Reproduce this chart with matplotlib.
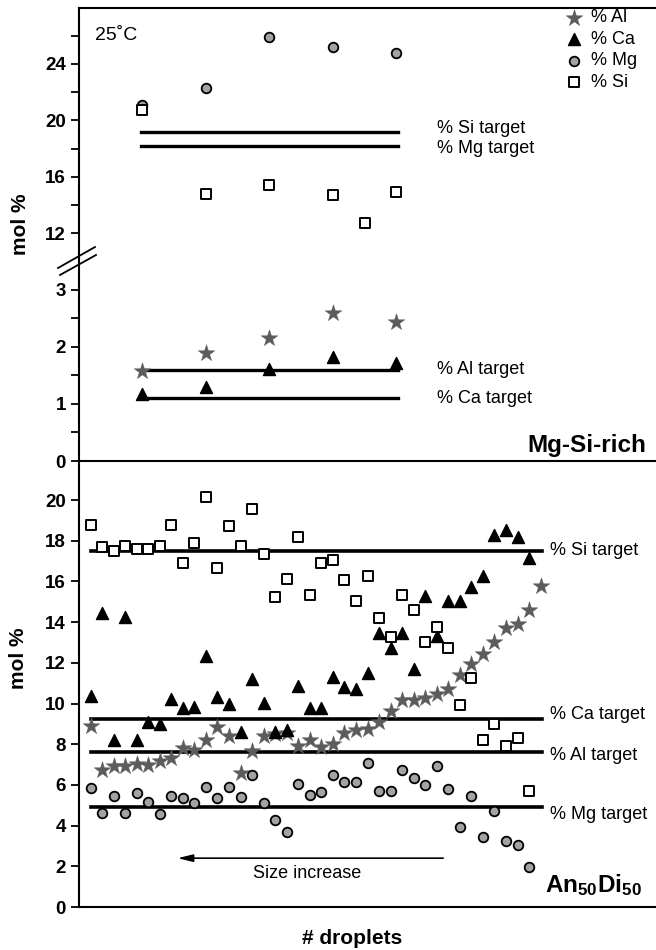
import matplotlib.pyplot as plt
from matplotlib.lines import Line2D

plt.rcParams['font.family'] = ['Liberation Sans', 'DejaVu Sans']
plt.rcParams['mathtext.fontset'] = 'custom'
plt.rcParams['mathtext.rm'] = 'Liberation Sans'
plt.rcParams['mathtext.bf'] = 'Liberation Sans:bold'

# panel superior (Mg-Si-rich)
top_x = [5.5, 11, 16.5, 22, 27.5]
top_si_x = [5.5, 11, 16.5, 22, 24.75, 27.5]
top_al = [1.57, 1.89, 2.16, 2.60, 2.44]
top_ca = [1.17, 1.30, 1.61, 1.82, 1.72]
top_mg = [21.1, 22.3, 25.9, 25.2, 24.8]
top_si = [20.7, 14.8, 15.4, 14.7, 12.7, 14.9]
top_targets_hi = {'% Si target': 19.2, '% Mg target': 18.15}
top_targets_lo = {'% Al target': 1.6, '% Ca target': 1.1}

# panel inferior (An50Di50)
drop_al = list(range(1, 41))
drop = list(range(1, 40))
al = [8.9, 6.75, 6.95, 6.95, 7.05, 7.0, 7.2, 7.3, 7.8, 7.7, 8.2, 8.85, 8.4, 6.6, 7.65,
      8.4, 8.5, 8.55, 7.9, 8.2, 7.85, 8.0, 8.55, 8.7, 8.75, 9.1, 9.65, 10.15, 10.15, 10.25,
      10.45, 10.7, 11.4, 11.95, 12.45, 13.0, 13.7, 13.9, 14.6, 15.8]
ca = [10.35, 14.43, 8.2, 14.27, 8.2, 9.1, 9.0, 10.2, 9.8, 9.85, 12.33, 10.33, 10.0, 8.6,
      11.19, 10.04, 8.6, 8.7, 10.86, 9.8, 9.8, 11.32, 10.83, 10.7, 11.51, 13.48, 12.71,
      13.48, 11.68, 15.28, 13.32, 15.05, 15.05, 15.74, 16.26, 18.28, 18.53, 18.2, 17.13]
si = [18.75, 17.7, 17.5, 17.75, 17.6, 17.6, 17.75, 18.77, 16.92, 17.87, 20.13, 16.67,
      18.72, 17.74, 19.54, 17.33, 15.25, 16.1, 18.17, 15.33, 16.89, 17.05, 16.07, 15.05,
      16.26, 14.19, 13.25, 15.33, 14.6, 13.0, 13.77, 12.71, 9.95, 11.24, 8.2, 8.98, 7.91,
      8.29, 5.72]
mg = [5.85, 4.6, 5.45, 4.6, 5.62, 5.16, 4.55, 5.45, 5.34, 5.13, 5.88, 5.34, 5.88, 5.42,
      6.5, 5.13, 4.28, 3.67, 6.04, 5.52, 5.66, 6.49, 6.16, 6.14, 7.06, 5.72, 5.72, 6.73,
      6.32, 6.0, 6.93, 5.78, 3.92, 5.45, 3.45, 4.73, 3.26, 3.05, 1.95]
bot_targets = {'% Si target': 17.5, '% Ca target': 9.25, '% Al target': 7.62, '% Mg target': 4.92}
bot_label_y = {'% Si target': 17.5, '% Ca target': 9.48, '% Al target': 7.47, '% Mg target': 4.57}

STAR = dict(marker='*', s=160, color='#5c5c5c', edgecolors='#5c5c5c', linewidths=0.3)
TRI = dict(marker='^', s=75, color='black')
CIRC = dict(marker='o', s=48, facecolors='#a3a3a3', edgecolors='black', linewidths=1.3)
SQ = dict(marker='s', s=48, facecolors='white', edgecolors='black', linewidths=1.4)

fig = plt.figure(figsize=(6.56, 9.5), dpi=100)
L = 79 / 656
W = 1 - L
ax1 = fig.add_axes([L, 1 - 258 / 950, W, 250 / 950])
ax2 = fig.add_axes([L, 1 - 461 / 950, W, 203 / 950])
ax3 = fig.add_axes([L, 1 - 907 / 950, W, 446 / 950])

for ax in (ax1, ax2, ax3):
    ax.set_xlim(0, 50)
    ax.set_xticks([])
    ax.spines['right'].set_visible(False)
    for sp in ax.spines.values():
        sp.set_linewidth(1.5)
    ax.tick_params(axis='y', which='both', direction='out', width=1.3, labelsize=13.5)
    ax.tick_params(axis='y', which='major', length=6)
    ax.tick_params(axis='y', which='minor', length=6)
    ax.patch.set_alpha(0)
ax1.spines['bottom'].set_visible(False)
ax2.spines['top'].set_visible(False)
ax3.spines['top'].set_visible(False)

# eje partido del panel superior
ax1.set_ylim(10.23, 27.97)
ax1.set_yticks([12, 16, 20, 24])
ax1.set_yticks([14, 18, 22, 26], minor=True)
ax2.set_ylim(0, 3.56)
ax2.set_yticks([0, 1, 2, 3])
ax2.set_yticks([0.5, 1.5, 2.5], minor=True)
ax3.set_ylim(0, 21.92)
ax3.set_yticks(range(0, 21, 2))
for ax in (ax1, ax2, ax3):
    for lbl in ax.get_yticklabels():
        lbl.set_fontweight('bold')

# lineas objetivo
for name, v in top_targets_hi.items():
    ax1.plot([5.35, 27.6], [v, v], color='black', lw=2.4, zorder=1)
ax1.text(31, 19.45, '% Si target', fontsize=13, va='center')
ax1.text(31, 18.0, '% Mg target', fontsize=13, va='center')
for name, v in top_targets_lo.items():
    ax2.plot([5.35, 27.6], [v, v], color='black', lw=2.4, zorder=1)
    ax2.text(31, v, name, fontsize=13, va='center')
for name, v in bot_targets.items():
    ax3.plot([1, 40.1], [v, v], color='black', lw=2.6, zorder=1)
    ax3.text(40.8, bot_label_y[name], name, fontsize=13, va='center')

# puntos panel superior
h_al = ax2.scatter(top_x, top_al, zorder=3, **STAR)
h_ca = ax2.scatter(top_x, top_ca, zorder=4, **TRI)
h_mg = ax1.scatter(top_x, top_mg, zorder=3, **CIRC)
h_si = ax1.scatter(top_si_x, top_si, zorder=4, **SQ)

# puntos panel inferior
ax3.scatter(drop_al, al, zorder=3, **STAR)
ax3.scatter(drop, mg, zorder=4, **CIRC)
ax3.scatter(drop, ca, zorder=5, **TRI)
ax3.scatter(drop, si, zorder=6, **SQ)

ax1.legend([h_al, h_ca, h_mg, h_si], ['% Al', '% Ca', '% Mg', '% Si'],
           loc='upper left', bbox_to_anchor=((565 - 79) / 577, 0.995), frameon=False,
           fontsize=13, handlelength=1.0, handletextpad=0.45, labelspacing=0.25,
           borderpad=0, borderaxespad=0)

ax1.text(1.4, 26.0, '25˚C', fontsize=14, va='center')
ax2.text(0.983, 0.02, 'Mg-Si-rich', transform=ax2.transAxes, fontsize=17.5,
         fontweight='bold', ha='right', va='bottom')
ax3.text(0.975, 0.02, r'$\mathbf{An_{50}Di_{50}}$', transform=ax3.transAxes, fontsize=17.5,
         ha='right', va='bottom')

ax3.annotate('', xy=(8.3, 2.4), xytext=(31.8, 2.4),
             arrowprops=dict(arrowstyle='-|>,head_length=0.9,head_width=0.22',
                             color='black', lw=1.2))
ax3.text(19.8, 1.67, 'Size increase', fontsize=13, ha='center', va='center')

fig.text(20 / 656, 1 - 224 / 950, 'mol %', rotation=90, fontsize=15, fontweight='bold',
         ha='center', va='center')
fig.text(18 / 656, 1 - 658 / 950, 'mol %', rotation=90, fontsize=15, fontweight='bold',
         ha='center', va='center')
fig.text(352 / 656, 1 - 938 / 950, '# droplets', fontsize=15, fontweight='bold',
         ha='center', va='center')

# marcas de corte
for (x0, y0, x1, y1) in [(58, 268, 95, 247), (60, 275, 96, 255)]:
    fig.add_artist(Line2D([x0 / 656, x1 / 656], [1 - y0 / 950, 1 - y1 / 950],
                          transform=fig.transFigure, color='black', lw=1.3))

fig.savefig('out.png', dpi=100)
